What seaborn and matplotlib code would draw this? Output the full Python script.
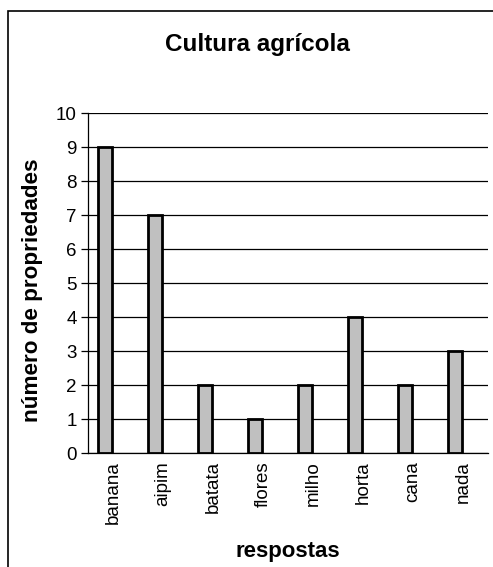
import matplotlib
matplotlib.use("Agg")
import matplotlib.pyplot as plt
import seaborn as sns
import pandas as pd
from matplotlib.patches import Rectangle

categories = ["banana", "aipim", "batata", "flores", "milho", "horta", "cana", "nada"]
counts = [9, 7, 2, 1, 2, 4, 2, 3]
# second (empty) series of the clustered chart, it only reserves the slot right of each bar
empty_series = [0, 0, 0, 0, 0, 0, 0, 0]
y_ticks = list(range(0, 11))

sns.set_theme(style="white")
plt.rcParams["font.family"] = ["Liberation Sans", "DejaVu Sans"]
plt.rcParams["text.color"] = "black"
plt.rcParams["axes.labelcolor"] = "black"
plt.rcParams["xtick.color"] = "black"
plt.rcParams["ytick.color"] = "black"

df = pd.concat([
    pd.DataFrame({"resposta": categories, "n": counts, "serie": "propriedades"}),
    pd.DataFrame({"resposta": categories, "n": empty_series, "serie": "vazia"}),
], ignore_index=True)

fig = plt.figure(figsize=(4.93, 5.67), dpi=100)
fig.patch.set_facecolor("white")
ax = fig.add_axes([88 / 493, 1 - 453 / 567, 400 / 493, 340 / 567])

sns.barplot(data=df, x="resposta", y="n", hue="serie", order=categories,
            hue_order=["propriedades", "vazia"],
            palette={"propriedades": "#C0C0C0", "vazia": "#FFFFFF"},
            width=0.64, gap=0.125, edgecolor="black", linewidth=2, saturation=1,
            legend=False, ax=ax, zorder=3)

# hide the empty series
for cont in ax.containers[1:]:
    for patch in cont:
        patch.set_visible(False)

ax.set_xlim(-0.5, len(categories) - 0.5)
ax.set_ylim(0, 10)
ax.set_yticks(y_ticks)
ax.set_yticklabels([str(v) for v in y_ticks], fontsize=13.5)
ax.yaxis.grid(True, color="black", linewidth=0.9, zorder=0)
ax.set_axisbelow(True)

# category ticks sit between groups
ax.set_xticks(range(len(categories)))
ax.set_xticklabels(categories, rotation=90, fontsize=13.5)
ax.tick_params(axis="x", length=0, pad=6)
ax.set_xticks([i - 0.5 for i in range(len(categories) + 1)], minor=True)
ax.tick_params(axis="x", which="minor", direction="out", length=5, width=0.9, color="black")
ax.tick_params(axis="y", direction="out", length=5, width=0.9, color="black", left=True, pad=3)

for side in ("top", "right"):
    ax.spines[side].set_visible(False)
for side in ("left", "bottom"):
    ax.spines[side].set_color("black")
    ax.spines[side].set_linewidth(0.9)

ax.set_xlabel("respostas", fontsize=16, fontweight="bold", labelpad=12)
ax.set_ylabel("número de propriedades", fontsize=16.2, fontweight="bold")
ax.yaxis.set_label_coords(-0.1125, 0.479)
fig.text(257 / 493, 1 - 45 / 567, "Cultura agrícola", ha="center", va="center",
         fontsize=17.5, fontweight="bold")

# chart area frame
fig.patches.append(Rectangle((8 / 493, -0.05), 1.1, 1 - 11 / 567 + 0.05,
                             transform=fig.transFigure, fill=False,
                             edgecolor="black", linewidth=1.2))

fig.savefig("out.png", dpi=100)
